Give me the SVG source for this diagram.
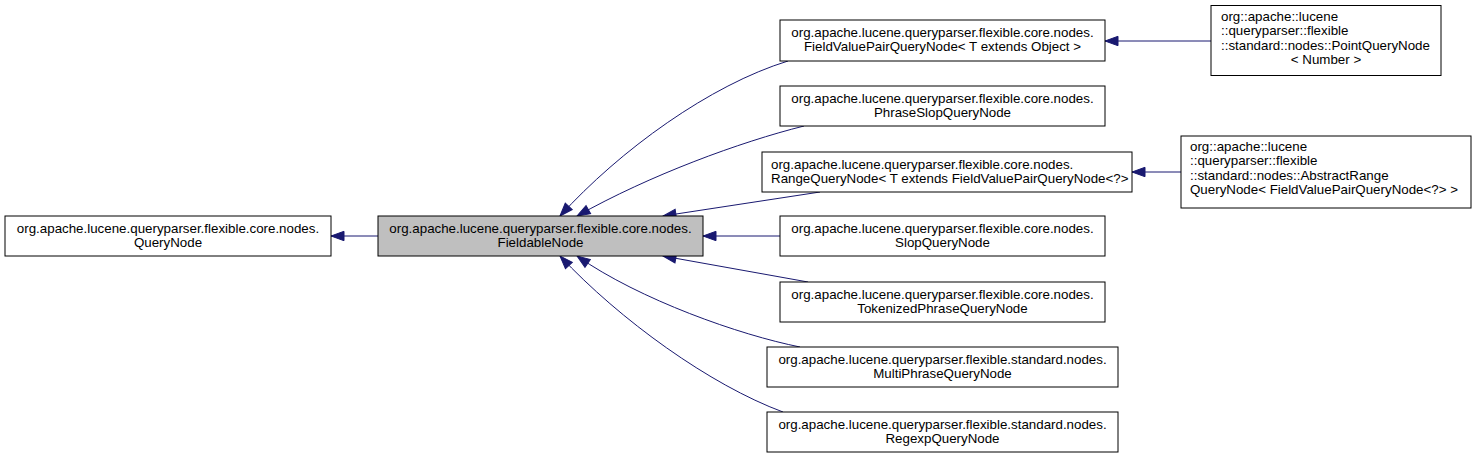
<svg xmlns="http://www.w3.org/2000/svg" width="1477" height="459" viewBox="0 0 1477 459">
<style>
  .box { fill: #ffffff; stroke: #000000; stroke-width: 1; }
  .root { fill: #bfbfbf; stroke: #000000; stroke-width: 1; }
  text { font-family: "Liberation Sans", Arial, Helvetica, sans-serif; font-size: 13.33px; fill: #000000; }
  .c { text-anchor: middle; }
  .l { text-anchor: start; }
  .edge { fill: none; stroke: #191970; stroke-width: 1; marker-end: url(#arr); }
</style>
<defs>
  <marker id="arr" markerUnits="userSpaceOnUse" markerWidth="20" markerHeight="16" viewBox="-15 -8 20 16" refX="0" refY="0" orient="auto" overflow="visible">
    <path d="M0,0 L-13,-4.7 L-13,4.7 Z" fill="#191970" stroke="#191970" stroke-width="1"/>
  </marker>
</defs>
<rect width="1477" height="459" fill="#ffffff"/>
<g id="connectors">
  <path class="edge" d="M378,236 L331,236"/>
  <path class="edge" d="M788,61 C 710,85 620,150 560,216"/>
  <path class="edge" d="M804,126 C 740,142 650,175 577,216"/>
  <path class="edge" d="M820,192 L663,216"/>
  <path class="edge" d="M780,236 L703,236"/>
  <path class="edge" d="M808,282 L663,256"/>
  <path class="edge" d="M800,347 C 740,335 640,300 577,256"/>
  <path class="edge" d="M783,412 C 710,385 620,320 560,256"/>
  <path class="edge" d="M1211,41 L1105,41"/>
  <path class="edge" d="M1181,172 L1132,172"/>
</g>
<g id="QueryNode">
  <rect class="box" x="5" y="216" width="326" height="40"/>
  <text class="c" x="168" y="233">org.apache.lucene.queryparser.flexible.core.nodes.</text>
  <text class="c" x="168" y="247">QueryNode</text>
</g>
<g id="FieldableNode">
  <rect class="root" x="378" y="216" width="325" height="40"/>
  <text class="c" x="540.5" y="233">org.apache.lucene.queryparser.flexible.core.nodes.</text>
  <text class="c" x="540.5" y="247">FieldableNode</text>
</g>
<g id="FieldValuePairQueryNode">
  <rect class="box" x="780" y="20" width="325" height="41"/>
  <text class="c" x="942.5" y="37">org.apache.lucene.queryparser.flexible.core.nodes.</text>
  <text class="c" x="942.5" y="51">FieldValuePairQueryNode&lt; T extends Object &gt;</text>
</g>
<g id="PhraseSlopQueryNode">
  <rect class="box" x="780" y="86" width="325" height="40"/>
  <text class="c" x="942.5" y="103">org.apache.lucene.queryparser.flexible.core.nodes.</text>
  <text class="c" x="942.5" y="117">PhraseSlopQueryNode</text>
</g>
<g id="RangeQueryNode">
  <rect class="box" x="762" y="152" width="370" height="40"/>
  <text class="l" x="771" y="169">org.apache.lucene.queryparser.flexible.core.nodes.</text>
  <text class="l" x="771" y="183">RangeQueryNode&lt; T extends FieldValuePairQueryNode&lt;?&gt;</text>
</g>
<g id="SlopQueryNode">
  <rect class="box" x="780" y="216" width="325" height="40"/>
  <text class="c" x="942.5" y="233">org.apache.lucene.queryparser.flexible.core.nodes.</text>
  <text class="c" x="942.5" y="247">SlopQueryNode</text>
</g>
<g id="TokenizedPhraseQueryNode">
  <rect class="box" x="780" y="282" width="325" height="40"/>
  <text class="c" x="942.5" y="299">org.apache.lucene.queryparser.flexible.core.nodes.</text>
  <text class="c" x="942.5" y="313">TokenizedPhraseQueryNode</text>
</g>
<g id="MultiPhraseQueryNode">
  <rect class="box" x="767" y="347" width="351" height="40"/>
  <text class="c" x="942.5" y="364">org.apache.lucene.queryparser.flexible.standard.nodes.</text>
  <text class="c" x="942.5" y="378">MultiPhraseQueryNode</text>
</g>
<g id="RegexpQueryNode">
  <rect class="box" x="767" y="412" width="351" height="40"/>
  <text class="c" x="942.5" y="429">org.apache.lucene.queryparser.flexible.standard.nodes.</text>
  <text class="c" x="942.5" y="443">RegexpQueryNode</text>
</g>
<g id="PointQueryNode">
  <rect class="box" x="1211" y="5.5" width="230" height="70"/>
  <text class="l" x="1221" y="21">org::apache::lucene</text>
  <text class="l" x="1221" y="35">::queryparser::flexible</text>
  <text class="l" x="1221" y="49.5">::standard::nodes::PointQueryNode</text>
  <text class="c" x="1326" y="63.5">&lt; Number &gt;</text>
</g>
<g id="AbstractRangeQueryNode">
  <rect class="box" x="1181" y="136" width="290" height="72"/>
  <text class="l" x="1190" y="151">org::apache::lucene</text>
  <text class="l" x="1190" y="165">::queryparser::flexible</text>
  <text class="l" x="1190" y="179.5">::standard::nodes::AbstractRange</text>
  <text class="l" x="1190" y="193.5">QueryNode&lt; FieldValuePairQueryNode&lt;?&gt; &gt;</text>
</g>
</svg>
